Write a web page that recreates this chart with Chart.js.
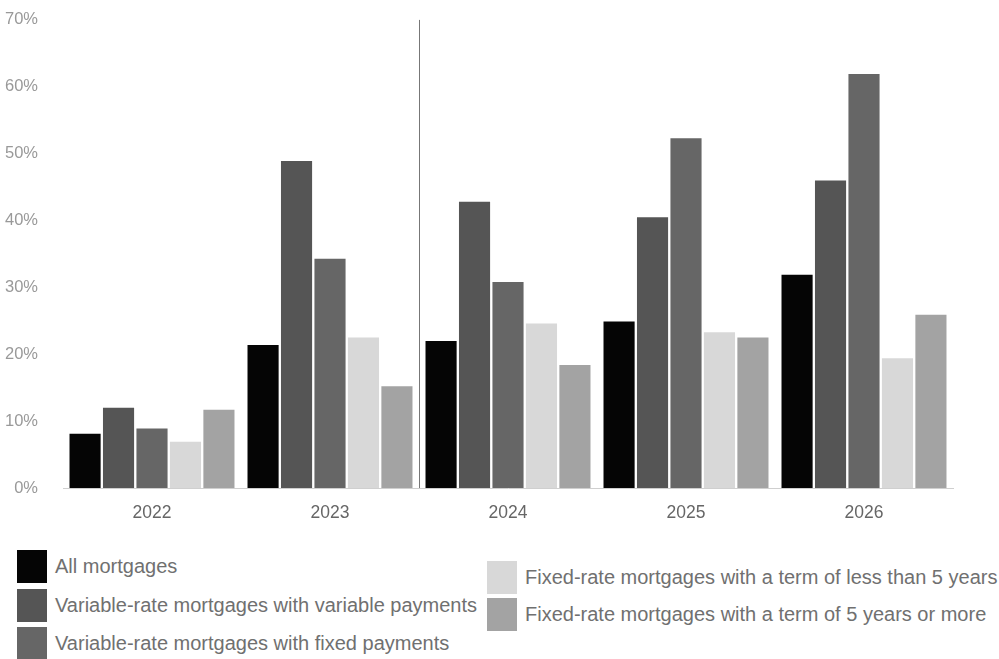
<!DOCTYPE html>
<html>
<head>
<meta charset="utf-8">
<script src="https://cdn.jsdelivr.net/npm/chart.js@4/dist/chart.umd.min.js"></script>
<style>
  html, body { margin: 0; padding: 0; background: #fff; }
  #wrap { position: relative; width: 999px; height: 659px; overflow: hidden; font-family: "Liberation Sans", Arial, sans-serif; }
  #chart-box { position: absolute; left: 0; top: -7px; width: 999px; height: 537px; }
  .lg { position: absolute; display: flex; align-items: center; font-size: 20px; color: #707070; white-space: nowrap; }
  .lg span.sw { display: inline-block; width: 30px; height: 33px; margin-right: 8px; flex: none; }
</style>
</head>
<body>
<div id="wrap">
  <div id="chart-box"><canvas id="c" width="999" height="537"></canvas></div>
  <div id="legend"></div>
</div>
<script>
// Share of mortgages, by type, per year
const years = ['2022', '2023', '2024', '2025', '2026'];
const seriesNames = [
  'All mortgages',
  'Variable-rate mortgages with variable payments',
  'Variable-rate mortgages with fixed payments',
  'Fixed-rate mortgages with a term of less than 5 years',
  'Fixed-rate mortgages with a term of 5 years or more'
];
const allMortgages      = [8.1, 21.4, 22.0, 24.9, 31.9];
const variableVariable  = [12.0, 48.9, 42.8, 40.5, 46.0];
const variableFixed     = [8.9, 34.3, 30.8, 52.3, 61.9];
const fixedUnder5       = [6.9, 22.5, 24.6, 23.3, 19.4];
const fixed5Plus        = [11.7, 15.2, 18.4, 22.5, 25.9];
const yTicks = [0, 10, 20, 30, 40, 50, 60, 70];

const colors = ['#050505', '#555555', '#666666', '#d8d8d8', '#a3a3a3'];
const values = [allMortgages, variableVariable, variableFixed, fixedUnder5, fixed5Plus];

// Vertical separator between the 2023 and 2024 groups
const separator = {
  id: 'separator',
  afterDatasetsDraw(chart) {
    const x = chart.scales.x;
    const y = chart.scales.y;
    const px = Math.round((x.getPixelForValue(1) + x.getPixelForValue(2)) / 2) + 0.5;
    const ctx = chart.ctx;
    ctx.save();
    ctx.strokeStyle = '#777';
    ctx.lineWidth = 1;
    ctx.beginPath();
    ctx.moveTo(px, y.getPixelForValue(70));
    ctx.lineTo(px, y.getPixelForValue(0));
    ctx.stroke();
    ctx.restore();
  }
};

new Chart(document.getElementById('c'), {
  type: 'bar',
  data: {
    labels: years,
    datasets: seriesNames.map((name, i) => ({
      label: name,
      data: values[i],
      backgroundColor: colors[i],
      categoryPercentage: 0.94,
      barPercentage: 0.93
    }))
  },
  options: {
    responsive: false,
    animation: false,
    layout: { padding: { left: 3, right: 46, top: 4, bottom: 6 } },
    plugins: { legend: { display: false }, tooltip: { enabled: false } },
    scales: {
      x: {
        grid: { display: false },
        border: { display: true, color: '#cfcfcf', dash: [2, 2] },
        ticks: { color: '#666', font: { family: 'Liberation Sans', size: 17.5 }, padding: 7 },
        afterFit(s) { s.height = 36; }
      },
      y: {
        min: 0,
        max: 70,
        afterBuildTicks(s) { s.ticks = yTicks.map(v => ({ value: v })); },
        grid: { display: false },
        border: { display: false },
        ticks: {
          color: '#999',
          font: { family: 'Liberation Sans', size: 16.5 },
          padding: 17,
          callback: v => v + '%'
        },
        afterFit(s) { s.width = 60; }
      }
    }
  },
  plugins: [separator]
});

// Legend: three entries on the left, two on the right
const legendPos = [
  { left: 17, top: 550 },
  { left: 17, top: 589 },
  { left: 17, top: 627 },
  { left: 487, top: 561 },
  { left: 487, top: 598 }
];
const lg = document.getElementById('legend');
seriesNames.forEach((name, i) => {
  const d = document.createElement('div');
  d.className = 'lg';
  d.style.left = legendPos[i].left + 'px';
  d.style.top = legendPos[i].top + 'px';
  const sw = document.createElement('span');
  sw.className = 'sw';
  sw.style.background = colors[i];
  const t = document.createElement('span');
  t.textContent = name;
  d.appendChild(sw);
  d.appendChild(t);
  lg.appendChild(d);
});
</script>
</body>
</html>
